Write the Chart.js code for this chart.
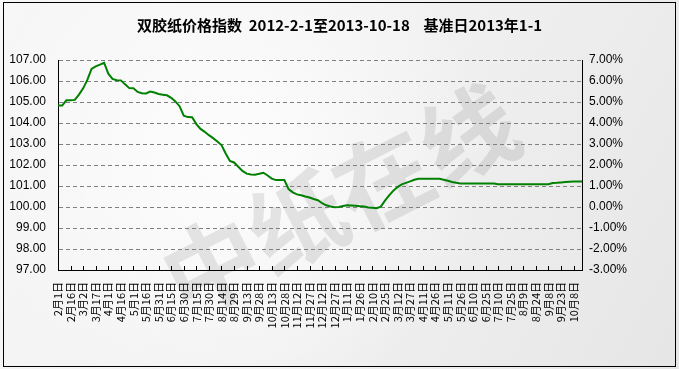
<!DOCTYPE html>
<html><head><meta charset="utf-8">
<script src="https://cdn.jsdelivr.net/npm/chart.js@4.4.0/dist/chart.umd.min.js"></script>
<style>html,body{margin:0;padding:0;background:#fff;}#wrap{width:679px;height:369px;position:relative;}canvas{display:block;}</style>
</head><body><div id="wrap"><canvas id="c" width="679" height="369"></canvas></div>
<script>
const titleText = '双胶纸价格指数  2012-2-1至2013-10-18    基准日2013年1-1';
const watermarkText = '中纸在线';
const categories = [
'2月1日','2月6日','2月11日','2月16日','2月21日','2月26日','3月2日','3月7日','3月12日','3月17日','3月22日','3月27日',
'4月1日','4月6日','4月11日','4月16日','4月21日','4月26日','5月1日','5月6日','5月11日','5月16日','5月21日','5月26日',
'5月31日','6月5日','6月10日','6月15日','6月20日','6月25日','6月30日','7月5日','7月10日','7月15日','7月20日','7月25日',
'7月30日','8月4日','8月9日','8月14日','8月19日','8月24日','8月29日','9月3日','9月8日','9月13日','9月18日','9月23日',
'9月28日','10月3日','10月8日','10月13日','10月18日','10月23日','10月28日','11月2日','11月7日','11月12日','11月17日','11月22日',
'11月27日','12月2日','12月7日','12月12日','12月17日','12月22日','12月27日','1月1日','1月6日','1月11日','1月16日','1月21日',
'1月26日','1月31日','2月5日','2月10日','2月15日','2月20日','2月25日','3月2日','3月7日','3月12日','3月17日','3月22日',
'3月27日','4月1日','4月6日','4月11日','4月16日','4月21日','4月26日','5月1日','5月6日','5月11日','5月16日','5月21日',
'5月26日','5月31日','6月5日','6月10日','6月15日','6月20日','6月25日','6月30日','7月5日','7月10日','7月15日','7月20日',
'7月25日','7月30日','8月4日','8月9日','8月14日','8月19日','8月24日','8月29日','9月3日','9月8日','9月13日','9月18日',
'9月23日','9月28日','10月3日','10月8日','10月13日','10月18日'
];
const indexValues = [
104.83,104.83,105.08,105.08,105.10,105.35,105.65,106.05,106.58,106.70,106.78,106.87,
106.35,106.10,106.04,106.03,105.84,105.66,105.65,105.48,105.42,105.41,105.50,105.45,
105.38,105.35,105.32,105.20,105.03,104.80,104.35,104.28,104.27,103.95,103.72,103.58,
103.42,103.28,103.12,102.95,102.55,102.19,102.12,101.92,101.72,101.59,101.55,101.54,
101.58,101.63,101.50,101.35,101.28,101.28,101.28,100.85,100.70,100.60,100.56,100.50,
100.45,100.38,100.32,100.18,100.08,100.02,99.99,100.00,100.05,100.08,100.07,100.06,
100.04,100.02,99.98,99.96,99.94,100.02,100.30,100.55,100.78,100.95,101.08,101.15,
101.22,101.30,101.34,101.34,101.34,101.34,101.34,101.34,101.30,101.25,101.19,101.15,
101.12,101.12,101.12,101.12,101.12,101.12,101.12,101.12,101.12,101.08,101.08,101.08,
101.08,101.08,101.08,101.08,101.08,101.08,101.08,101.08,101.08,101.08,101.14,101.15,
101.17,101.19,101.20,101.21,101.22,101.22
];
const labelEvery = 3;           // one labelled tick per 15 days
const leftAxisRange = [97, 107];
const rightAxisRange = [-3, 7];

const decor = {
  id: 'decor',
  beforeDraw(chart) {
    const ctx = chart.ctx, W = chart.width, H = chart.height;
    ctx.save();
    const g = ctx.createLinearGradient(0, 0, W, H);
    g.addColorStop(0, '#f7f7f7'); g.addColorStop(0.45, '#f2f2f2'); g.addColorStop(1, '#e6e6e6');
    ctx.fillStyle = g; ctx.fillRect(0, 0, W, H);
    const r = ctx.createRadialGradient(230, 160, 10, 230, 160, 260);
    r.addColorStop(0, 'rgba(255,255,255,0.8)'); r.addColorStop(1, 'rgba(255,255,255,0)');
    ctx.fillStyle = r; ctx.fillRect(0, 0, W, H);
    ctx.translate(340, 200);
    ctx.rotate(-0.47);
    ctx.font = 'bold 96px "Noto Sans CJK SC"';
    ctx.fillStyle = 'rgba(0,0,0,0.09)';
    ctx.textAlign = 'center'; ctx.textBaseline = 'middle';
    ctx.fillText(watermarkText, 0, 0);
    ctx.restore();
  },
  afterDatasetsDraw(chart) {
    const ctx = chart.ctx, x = chart.scales.x, a = chart.chartArea;
    ctx.save();
    ctx.strokeStyle = '#000'; ctx.lineWidth = 1;
    ctx.beginPath();
    for (let i = 0; i < categories.length; i += labelEvery) {
      const px = Math.round(x.getPixelForValue(i)) + 0.5;
      ctx.moveTo(px, Math.round(a.bottom)); ctx.lineTo(px, Math.round(a.bottom) - 4);
    }
    ctx.stroke();
    ctx.restore();
  },
  afterDraw(chart) {
    const ctx = chart.ctx;
    ctx.save();
    ctx.strokeStyle = '#000'; ctx.lineWidth = 1;
    ctx.strokeRect(3.5, 2.5, 672, 364);
    ctx.restore();
  }
};

new Chart(document.getElementById('c'), {
  type: 'line',
  data: {
    labels: categories,
    datasets: [{
      data: indexValues,
      borderColor: '#008000',
      borderWidth: 2,
      pointRadius: 0,
      tension: 0,
      fill: false,
      yAxisID: 'y'
    }]
  },
  options: {
    responsive: false,
    animation: false,
    devicePixelRatio: 1,
    layout: { padding: 0 },
    plugins: {
      legend: { display: false },
      tooltip: { enabled: false },
      title: {
        display: true,
        text: titleText,
        color: '#000',
        font: { family: '"Noto Sans CJK SC"', size: 15, weight: 'bold' },
        padding: { top: 16, bottom: 26 }
      }
    },
    scales: {
      x: {
        type: 'category',
        offset: false,
        grid: { display: false, drawTicks: false },
        border: { display: true, color: '#000', width: 1 },
        ticks: {
          autoSkip: false, maxRotation: 90, minRotation: 90, padding: 12,
          color: '#000',
          font: { family: '"Noto Sans CJK SC"', size: 11 },
          callback: (v, i) => (i % labelEvery === 0 ? categories[i] : null)
        },
        afterFit: s => { s.height = 99; }
      },
      y: {
        position: 'left',
        min: leftAxisRange[0], max: leftAxisRange[1],
        grid: { color: '#808080', lineWidth: 1, drawTicks: false },
        border: { display: true, color: '#000', width: 1, dash: [4, 3] },
        ticks: {
          stepSize: 1, padding: 12, color: '#000',
          font: { family: '"Liberation Sans"', size: 12 },
          callback: v => Number(v).toFixed(2)
        },
        afterFit: s => { s.width = 58; }
      },
      y2: {
        position: 'right',
        min: rightAxisRange[0], max: rightAxisRange[1],
        grid: { drawOnChartArea: false, drawTicks: false },
        border: { display: true, color: '#000', width: 1 },
        ticks: {
          stepSize: 1, padding: 7, color: '#000',
          font: { family: '"Liberation Sans"', size: 12 },
          callback: v => Number(v).toFixed(2) + '%'
        },
        afterFit: s => { s.width = 97; }
      }
    }
  },
  plugins: [decor]
});
</script>
</body></html>
